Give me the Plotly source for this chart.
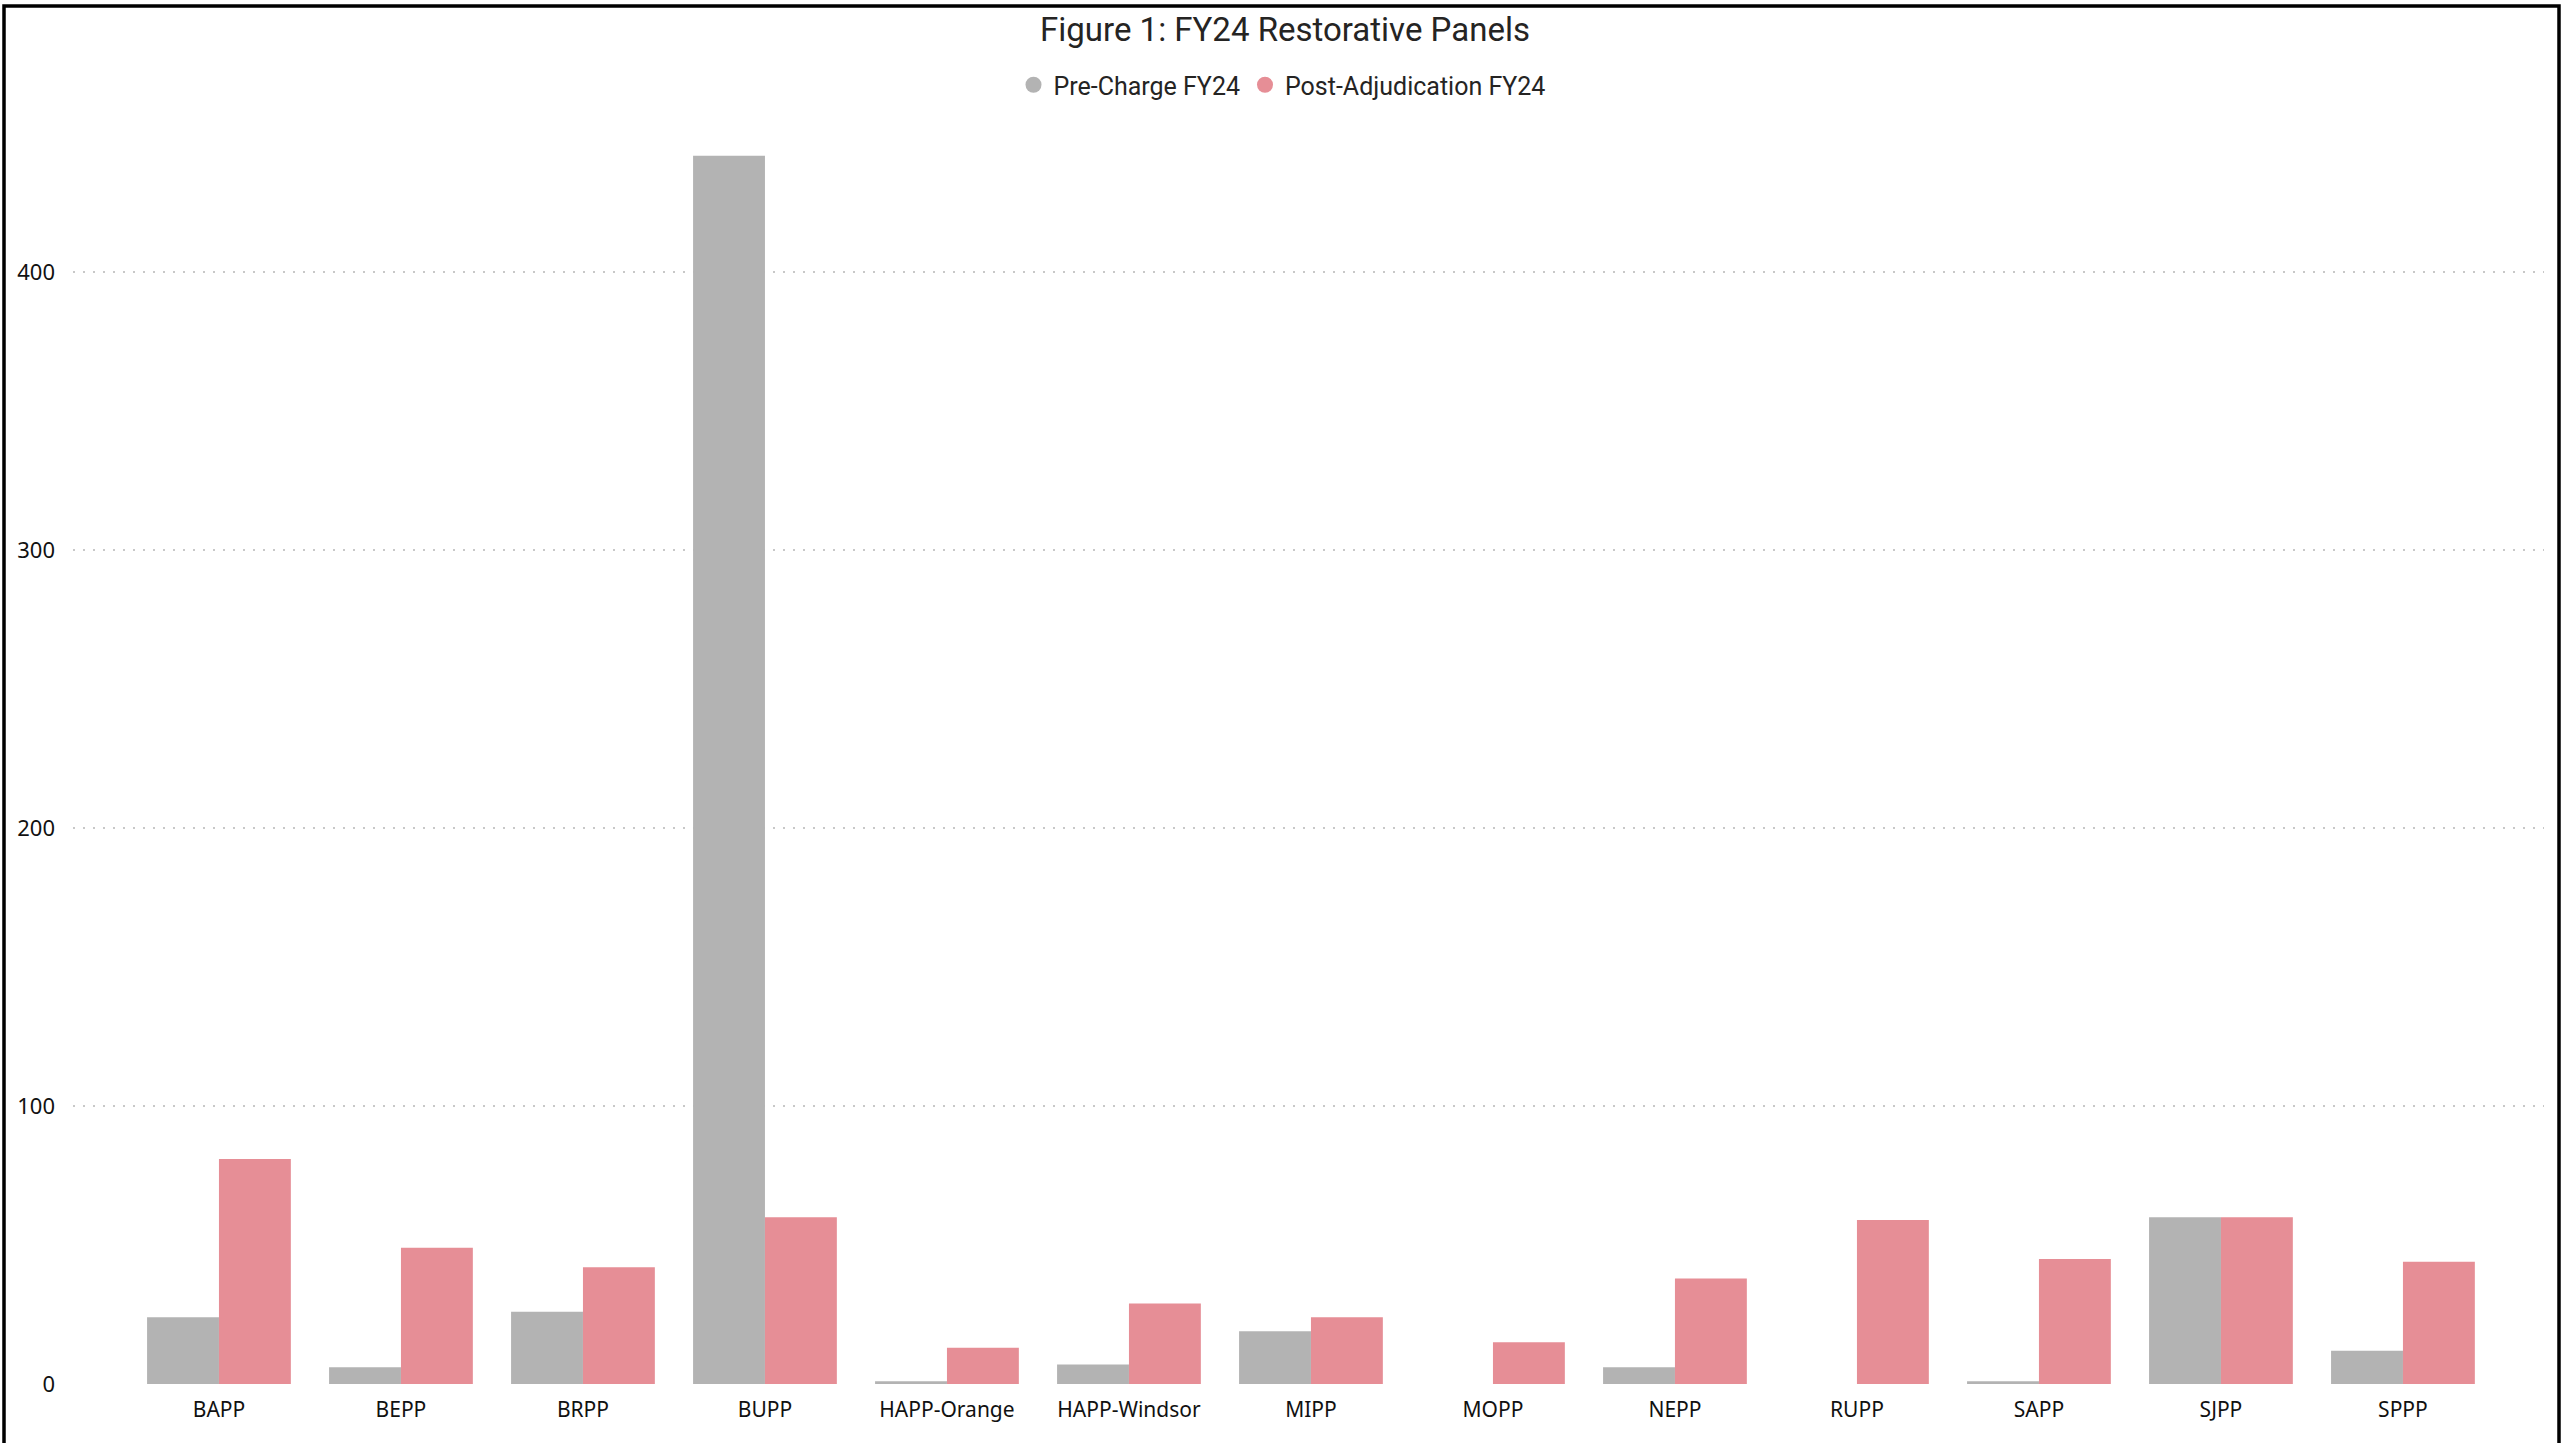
import plotly.graph_objects as go

categories = ["BAPP", "BEPP", "BRPP", "BUPP", "HAPP-Orange", "HAPP-Windsor", "MIPP",
              "MOPP", "NEPP", "RUPP", "SAPP", "SJPP", "SPPP"]
pre_charge = [24, 6, 26, 442, 1, 7, 19, 0, 6, 0, 1, 60, 12]
post_adjudication = [81, 49, 42, 60, 13, 29, 24, 15, 38, 59, 45, 60, 44]
y_ticks = [0, 100, 200, 300, 400]

GRAY = "#B3B3B3"
PINK = "#E68E96"

W, H = 2563, 1443
ML, MR, MT, MB = 73, 19, 130, 59
PW, PH = W - ML - MR, H - MT - MB

def px_x(p):
    return (p - ML) / PW

def px_y(p):
    return (H - MB - p) / PH

fig = go.Figure()
fig.add_trace(go.Bar(x=categories, y=pre_charge, name="Pre-Charge FY24",
                     marker=dict(color=GRAY, line=dict(width=0)), showlegend=False))
fig.add_trace(go.Bar(x=categories, y=post_adjudication, name="Post-Adjudication FY24",
                     marker=dict(color=PINK, line=dict(width=0)), showlegend=False))
# legend entries with round markers
fig.add_trace(go.Scatter(x=[None], y=[None], mode="markers", name="Pre-Charge FY24",
                         marker=dict(color=GRAY, size=19, symbol="circle")))
fig.add_trace(go.Scatter(x=[None], y=[None], mode="markers", name="Post-Adjudication FY24",
                         marker=dict(color=PINK, size=19, symbol="circle")))

fig.update_layout(
    width=W, height=H,
    margin=dict(l=ML, r=MR, t=MT, b=MB),
    paper_bgcolor="white", plot_bgcolor="white",
    barmode="group", bargap=0.21, bargroupgap=0,
    title=dict(text="Figure 1: FY24 Restorative Panels", x=px_x(1285), xref="paper",
               xanchor="center", y=1 - 29 / H, yanchor="middle",
               font=dict(family="Roboto", size=33, color="#252423")),
    legend=dict(orientation="h", x=px_x(1282), xanchor="center", xref="paper",
                y=px_y(85), yanchor="middle", itemwidth=30,
                font=dict(family="Roboto", size=25, color="#252423"),
                bgcolor="rgba(0,0,0,0)", tracegroupgap=0),
    xaxis=dict(range=[-0.802, 12.775], showgrid=False, zeroline=False, showline=False,
               ticks="outside", ticklen=7, tickcolor="rgba(0,0,0,0)",
               tickfont=dict(family="Noto Sans", size=21, color="#111111")),
    yaxis=dict(range=[0, (H - MB - MT) / 2.779], tickvals=y_ticks, showgrid=True,
               gridcolor="#C8C8C8", gridwidth=2, griddash="2px,8px",
               zeroline=False, showline=False, ticks="",
               ticklabelstandoff=17,
               tickfont=dict(family="Noto Sans", size=22, color="#111111")),
    font=dict(family="Noto Sans"),
)

# outer frame (left, top, right)
fig.add_shape(type="path", xref="paper", yref="paper",
              path=f"M {px_x(4)},{px_y(1460)} L {px_x(4)},{px_y(6)} L {px_x(2559)},{px_y(6)} L {px_x(2559)},{px_y(1460)}",
              line=dict(color="black", width=3.5), layer="above")

fig.write_html("out.html", config={"displayModeBar": False},
               post_script="document.body.style.margin='0';document.body.style.overflow='hidden';")
